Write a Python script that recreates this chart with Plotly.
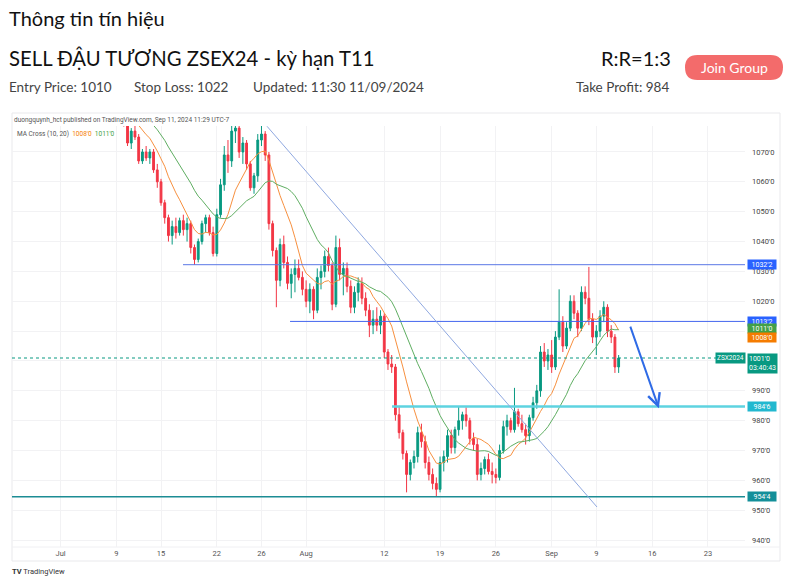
import pandas as pd
import plotly.graph_objects as go

# ---------------- data ----------------
# OHLC, three bars per trading day, Jul 1 .. Sep 11 2024 (ZSX2024)
open_ = [1092,1090,1093, 1091,1088,1090, 1086,1089,1087, 1085,1087,1085, 1084,1086,1083, 1082,1085,1082,
         1079,1073,1077, 1075,1067,1070, 1068,1070,1064, 1060,1053,1048, 1042,1045,1043, 1047,1044,1046,
         1038,1034,1040, 1046,1048,1043, 1036,1049,1059, 1069,1067,1077, 1078,1070,1073, 1066,1058,1062,
         1074,1076,1069, 1046,1037,1027, 1039,1033,1026, 1029,1031,1028, 1024,1020,1024, 1017,1028,1030,
         1035,1032,1019, 1038,1029,1031, 1025,1018,1023, 1026,1021,1017, 1012,1014,1012, 1015,1003,999,
         998,982,976, 969,962,966, 968,976,973, 966,962,959, 957,966,968, 975,971,977,
         980,982,980, 974,972,962, 964,967,963, 962,961,970, 978,980,977, 983,979,977,
         975,981,986, 990,1003,1000, 1002,998,1008, 1013,1005,1011, 1020,1016,1011, 1023,1021,1014,
         1008,1010,1015, 1018,1010,1008, 998]
high = [1096,1094,1097, 1093,1092,1091, 1090,1091,1089, 1088,1090,1087, 1087,1088,1085, 1086,1087,1084,
        1081,1078,1079, 1076,1071,1072, 1071,1071,1066, 1061,1054,1049, 1047,1048,1048, 1049,1048,1047,
        1039,1041,1047, 1049,1049,1045, 1051,1061,1072, 1074,1079,1080, 1079,1075,1074, 1067,1063,1076,
        1079,1077,1070, 1047,1038,1041, 1042,1035,1031, 1034,1034,1030, 1027,1026,1025, 1031,1032,1037,
        1038,1033,1042, 1041,1033,1033, 1027,1025,1028, 1028,1023,1019, 1017,1018,1017, 1016,1004,1002,
        999,985,977, 970,967,970, 978,979,975, 968,964,961, 968,970,977, 977,978,984.6,
        983,984.5,981, 976,974,966, 968,969,966, 964,972,980, 982,981,991, 984,982,979,
        982,988,992, 1005,1006,1004, 1007,1010,1024, 1015,1013,1022, 1022,1017,1025, 1025,1031.5,1016,
        1012,1017,1020, 1019,1012,1009, 1002]
low = [1088,1087,1090, 1086,1085,1084, 1084,1085,1083, 1082,1084,1082, 1081,1082,1080, 1080,1081,1078.5,
       1072,1071,1074, 1066,1066,1067, 1066,1063,1058, 1052,1046,1040, 1039,1041,1042, 1042,1040,1036,
       1032.2,1033,1039, 1043,1042,1035, 1035,1048,1057, 1063,1065,1073, 1068,1066,1064, 1057,1056,1060,
       1072,1067,1044, 1035,1018,1025, 1031,1024,1021, 1023,1027,1022, 1018,1016,1014, 1016,1024,1028,
       1030,1017,1018, 1027,1022,1023, 1016,1016,1020, 1019,1015,1008, 1009,1010,1009, 1001,997,996,
       980,974,967, 956,960,964, 966,971,964, 960,957,954.5, 956,963,966, 969,969,975,
       977,978,972, 970,960,960, 962,962,959, 959,960,969, 975,976,976, 978,976,972,
       973,980,984, 988,998,997, 996,997,1007, 1003,1004,1010, 1014,1008,1010, 1019,1012,1006,
       1002,1008,1013, 1008,1006,996, 996]
close = [1090,1093,1091, 1088,1090,1086, 1089,1087,1085, 1087,1085,1084, 1086,1083,1082, 1085,1082,1079,
         1073,1077,1075, 1067,1070,1068, 1070,1064,1060, 1053,1048,1042, 1045,1043,1047, 1044,1046,1038,
         1034,1040,1046, 1048,1043,1036, 1049,1059,1069, 1067,1077,1078, 1070,1073,1066, 1058,1062,1074,
         1076,1069,1046, 1037,1027,1039, 1033,1026,1029, 1031,1028,1024, 1020,1024,1017, 1028,1030,1035,
         1032,1019,1038, 1029,1031,1025, 1018,1023,1026, 1021,1017,1012, 1014,1012,1015, 1003,999,998,
         982,976,969, 962,966,968, 976,973,966, 962,959,957, 966,968,975, 971,977,980,
         982,980,974, 972,962,964, 967,963,962, 961,970,978, 980,977,983, 979,977,975,
         981,986,990, 1003,1000,1002, 998,1008,1013, 1005,1011,1020, 1016,1011,1023, 1021,1014,1008,
         1010,1015,1018, 1010,1008,998, 1001]

trading_holidays = ["2024-07-04", "2024-09-02"]
bars_per_day = 3

ma_fast_period, ma_slow_period = 10, 20

# horizontal levels drawn on the chart: price and start (trading-day index from Jul 1)
level_prices = [1032.25, 1013.25, 984.75, 954.5]
level_start_days = [10.97, 20.56, 29.7, -10]
level_labels = ["1032'2", "1013'2", "984'6", "954'4"]
level_colors = ["#5A78E6", "#4466EE", "#5ED3E0", "#1C8C94"]
level_widths = [1, 1, 2.5, 1.5]
level_label_bg = ["#2962FF", "#2962FF", "#22B8CF", "#138F99"]

last_price = 1001.0
last_label = "1001'0"
countdown = "03:40:43"
ma_fast_value, ma_slow_value = 1008.0, 1011.0
ma_fast_label, ma_slow_label = "1008'0", "1011'0"

# trend line (day-index, price) and arrow (day-index, price)
trend_days = [18.5, 48.06]
trend_prices = [1078.6, 951.1]
arrow_days = [51.0, 53.6]
arrow_prices = [1012.0, 984.2]

price_ticks = [940, 950, 960, 970, 980, 990, 1000, 1010, 1020, 1030, 1040, 1050, 1060, 1070]
price_tick_text = ["940'0", "950'0", "960'0", "970'0", "980'0", "990'0", "1000'0", "1010'0",
                   "1020'0", "1030'0", "1040'0", "1050'0", "1060'0", "1070'0"]
date_ticks = ["2024-07-01", "2024-07-09", "2024-07-15", "2024-07-22", "2024-07-26", "2024-08-01",
              "2024-08-12", "2024-08-19", "2024-08-26", "2024-09-03", "2024-09-09", "2024-09-16",
              "2024-09-23"]
date_tick_text = ["Jul", "9", "15", "22", "26", "Aug", "12", "19", "26", "Sep", "9", "16", "23"]

# ---------------- derived ----------------
days = [d for d in pd.bdate_range("2024-06-24", "2024-09-30") if d.strftime("%Y-%m-%d") not in trading_holidays]
day_index = {d.strftime("%Y-%m-%d"): i - days.index(pd.Timestamp("2024-07-01")) for i, d in enumerate(days)}

x_bars = [i / bars_per_day for i in range(len(close))]
closes = pd.Series(close)
ma_fast = closes.rolling(ma_fast_period).mean()
ma_slow = closes.rolling(ma_slow_period).mean()

W, H = 794, 585
def px(x):
    return x / W
def py(y):
    return 1 - y / H

X_RANGE = [-4.35, 61.32]
Y_RANGE = [937.7, 1078.7]

GREEN = "#089981"
RED = "#F23645"
CF = "Roboto, Liberation Sans, sans-serif"

fig = go.Figure()

fig.add_trace(go.Candlestick(
    x=x_bars, open=open_, high=high, low=low, close=close,
    increasing=dict(line=dict(color=GREEN, width=1), fillcolor=GREEN),
    decreasing=dict(line=dict(color=RED, width=1), fillcolor=RED),
    whiskerwidth=0, showlegend=False, hoverinfo="skip"))

fig.add_trace(go.Scatter(x=x_bars, y=ma_fast, mode="lines",
                         line=dict(color="#F7903F", width=1), showlegend=False, hoverinfo="skip"))
fig.add_trace(go.Scatter(x=x_bars, y=ma_slow, mode="lines",
                         line=dict(color="#5FAE62", width=1), showlegend=False, hoverinfo="skip"))

# horizontal levels
for p, s, c, w in zip(level_prices, level_start_days, level_colors, level_widths):
    fig.add_trace(go.Scatter(x=[max(s, X_RANGE[0]), X_RANGE[1]], y=[p, p], mode="lines",
                             line=dict(color=c, width=w), showlegend=False, hoverinfo="skip"))

# last-price dotted line
fig.add_trace(go.Scatter(x=[X_RANGE[0], X_RANGE[1]], y=[last_price, last_price], mode="lines",
                         line=dict(color=GREEN, width=1, dash="dot"), showlegend=False, hoverinfo="skip"))

# trend line
fig.add_trace(go.Scatter(x=trend_days, y=trend_prices, mode="lines",
                         line=dict(color="#8FA8E0", width=1), showlegend=False, hoverinfo="skip"))

annotations = []

# arrow
annotations.append(dict(x=arrow_days[1], y=arrow_prices[1], ax=arrow_days[0], ay=arrow_prices[0],
                        xref="x", yref="y", axref="x", ayref="y", showarrow=True, text="",
                        arrowhead=5, arrowsize=1.2, arrowwidth=2, arrowcolor="#2F6BE6"))

lab_font = dict(family=CF, size=7, color="white")
LX = px(747)
BOXW = 27
for p, t, bg in zip(level_prices, level_labels, level_label_bg):
    annotations.append(dict(x=LX, y=p, xref="paper", yref="y", text=t, showarrow=False, width=BOXW,
                            xanchor="left", yanchor="middle", bgcolor=bg, font=lab_font, borderpad=0.5))
annotations.append(dict(x=LX, y=ma_slow_value, xref="paper", yref="y", text=ma_slow_label, width=BOXW,
                        showarrow=False, xanchor="left", yanchor="middle", bgcolor="#43A047",
                        font=lab_font, borderpad=0.5))
annotations.append(dict(x=LX, y=ma_fast_value, xref="paper", yref="y", text=ma_fast_label, width=BOXW,
                        showarrow=False, xanchor="left", yanchor="middle", bgcolor="#F57C00",
                        font=lab_font, borderpad=0.5))
annotations.append(dict(x=LX, y=last_price, xref="paper", yref="y", yanchor="top",
                        text=last_label + "<br>" + countdown, showarrow=False, xanchor="left",
                        bgcolor=GREEN, font=lab_font, borderpad=1, align="left", yshift=5))
annotations.append(dict(x=px(745.5), y=last_price, xref="paper", yref="y", text="ZSX2024",
                        showarrow=False, xanchor="right", yanchor="middle", bgcolor=GREEN,
                        font=dict(family=CF, size=6.5, color="white"), borderpad=1))

small = dict(family=CF, size=6.5, color="#555555")
annotations.append(dict(x=px(12), y=py(120), xref="paper", yref="paper", showarrow=False,
                        xanchor="left", yanchor="middle", font=small,
                        text="duongquynh_hct published on TradingView.com, Sep 11, 2024 11:29 UTC-7"))
annotations.append(dict(x=px(15), y=py(134), xref="paper", yref="paper", showarrow=False,
                        xanchor="left", yanchor="middle", font=small,
                        text="MA Cross (10, 20)  <span style='color:#F57C00'>" + ma_fast_label +
                             "</span>  <span style='color:#43A047'>" + ma_slow_label + "</span>"))
annotations.append(dict(x=px(10), y=py(571), xref="paper", yref="paper", showarrow=False,
                        xanchor="left", yanchor="middle",
                        font=dict(family=CF, size=7.5, color="#333"),
                        text="<b>TV</b> TradingView"))

# header
HF = "Lato, Open Sans, sans-serif"
annotations.append(dict(x=px(7), y=py(18), xref="paper", yref="paper", showarrow=False,
                        xanchor="left", yanchor="middle", text="Thông tin tín hiệu",
                        font=dict(family=HF, size=20, color="#111")))
annotations.append(dict(x=px(7), y=py(58), xref="paper", yref="paper", showarrow=False,
                        xanchor="left", yanchor="middle", text="SELL ĐẬU TƯƠNG ZSEX24 - kỳ hạn T11",
                        font=dict(family=HF, size=20.3, color="#111")))
annotations.append(dict(x=px(673), y=py(58), xref="paper", yref="paper", showarrow=False,
                        xanchor="right", yanchor="middle", text="R:R=1:3",
                        font=dict(family=HF, size=20, color="#111")))
sub = dict(family=HF, size=13.5, color="#444")
for xx, t in [(7, "Entry Price: 1010"), (132, "Stop Loss: 1022"), (251, "Updated: 11:30 11/09/2024")]:
    annotations.append(dict(x=px(xx), y=py(87), xref="paper", yref="paper", showarrow=False,
                            xanchor="left", yanchor="middle", text=t, font=sub))
annotations.append(dict(x=px(671), y=py(87), xref="paper", yref="paper", showarrow=False,
                        xanchor="right", yanchor="middle", text="Take Profit: 984", font=sub))
annotations.append(dict(x=px(734), y=py(67.5), xref="paper", yref="paper", showarrow=False,
                        xanchor="center", yanchor="middle", text="Join Group",
                        font=dict(family=HF, size=14, color="white")))

# Join Group pill
x0, x1, y0, y1 = 685, 783, 55, 80
r = (y1 - y0) / 2
pill = (f"M {px(x0 + r)},{py(y0)} L {px(x1 - r)},{py(y0)} "
        f"Q {px(x1)},{py(y0)} {px(x1)},{py(y0 + r)} Q {px(x1)},{py(y1)} {px(x1 - r)},{py(y1)} "
        f"L {px(x0 + r)},{py(y1)} Q {px(x0)},{py(y1)} {px(x0)},{py(y0 + r)} "
        f"Q {px(x0)},{py(y0)} {px(x0 + r)},{py(y0)} Z")
shapes = [
    dict(type="path", path=pill, xref="paper", yref="paper", fillcolor="#F36B6B",
         line=dict(width=0), layer="above"),
    dict(type="rect", x0=px(12), x1=px(780), y0=py(561), y1=py(113), xref="paper", yref="paper",
         line=dict(color="#E9E9EC", width=1), layer="below"),
    dict(type="line", x0=px(12), x1=px(780), y0=py(547), y1=py(547), xref="paper", yref="paper",
         line=dict(color="#F0F0F3", width=1), layer="below"),
]

fig.update_layout(
    width=W, height=H, margin=dict(l=0, r=0, t=0, b=0),
    paper_bgcolor="white", plot_bgcolor="white",
    annotations=annotations, shapes=shapes, showlegend=False,
    xaxis=dict(domain=[px(12), px(745)], range=X_RANGE, rangeslider=dict(visible=False),
               tickvals=[day_index[d] for d in date_ticks], ticktext=date_tick_text,
               showgrid=True, gridcolor="#F2F2F4", gridwidth=1, zeroline=False, showline=False,
               ticks="", tickfont=dict(family=CF, size=7.5, color="#555"),
               fixedrange=True),
    yaxis=dict(domain=[py(547), py(126)], range=Y_RANGE, side="right",
               tickvals=price_ticks, ticktext=price_tick_text,
               showgrid=True, gridcolor="#F2F2F4", gridwidth=1, zeroline=False, showline=False,
               ticks="", ticklabelstandoff=6,
               tickfont=dict(family=CF, size=7.5, color="#444"),
               fixedrange=True),
)

fig.write_html("out.html", config={"displayModeBar": False},
               post_script="document.body.style.margin='0';")
